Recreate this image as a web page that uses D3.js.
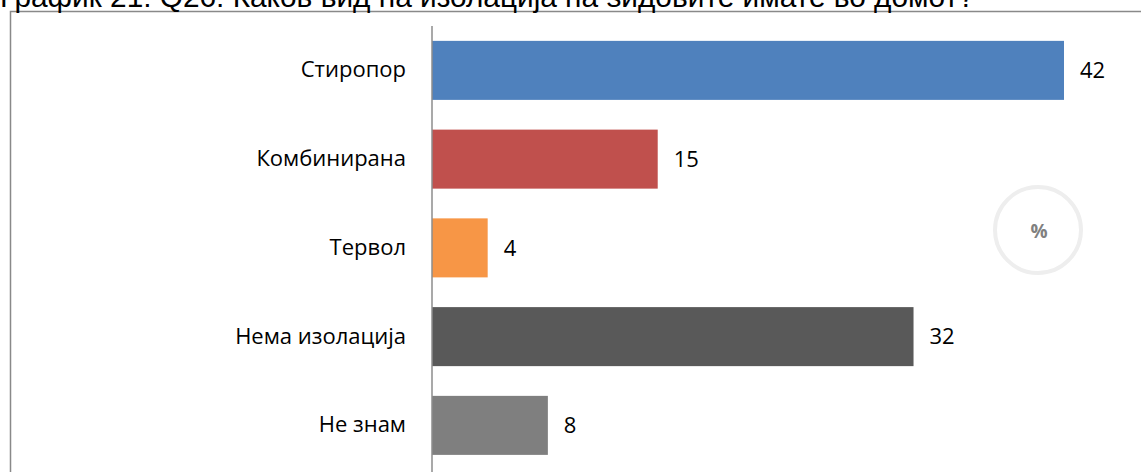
<!DOCTYPE html>
<html>
<head>
<meta charset="utf-8">
<script src="https://cdnjs.cloudflare.com/ajax/libs/d3/7.8.5/d3.min.js"></script>
<style>
html,body{margin:0;padding:0;background:#fff;}
svg{display:block;}
</style>
</head>
<body>
<svg id="chart" width="1141" height="472"></svg>
<script>
const title = "График 21: Q26: Каков вид на изолација на ѕидовите имате во домот?";
const categories = ["Стиропор", "Комбинирана", "Тервол", "Нема изолација", "Не знам"];
const values = [42, 15, 3.7, 32, 7.7];
const valueLabels = ["42", "15", "4", "32", "8"];
const colors = ["#4F81BD", "#C0504D", "#F79646", "#595959", "#7F7F7F"];
const unitLabel = "%";

const svg = d3.select("#chart");
const W = 1141, H = 472;
const labelFont = "Open Sans, Noto Sans, sans-serif";

// frame
svg.append("rect").attr("x", 10.5).attr("y", 11.5).attr("width", 1200).attr("height", 600)
  .attr("fill", "none").attr("stroke", "#898989").attr("stroke-width", 1.5);

// title
const t = svg.append("text").attr("x", 0).attr("y", 7)
  .attr("font-family", "Liberation Sans, Arial, sans-serif").attr("font-size", 24)
  .attr("fill", "#000").text(title);
const tl = t.node().getComputedTextLength();
t.attr("font-size", 24 * 975 / tl);

const x = d3.scaleLinear().domain([0, 42]).range([432, 1064]);
const y = d3.scaleBand().domain(categories).range([26, 26 + 88.75 * 5])
  .paddingInner(0.335).paddingOuter(0.1675);

// bars
svg.selectAll("rect.bar").data(categories).enter().append("rect")
  .attr("class", "bar")
  .attr("x", x(0))
  .attr("y", d => y(d))
  .attr("width", (d, i) => x(values[i]) - x(0))
  .attr("height", y.bandwidth())
  .attr("fill", (d, i) => colors[i]);

// axis
const axis = d3.axisLeft(y).tickSize(0).tickPadding(26);
const ag = svg.append("g").attr("transform", `translate(${x(0)},0)`).call(axis);
ag.select(".domain").remove();
ag.selectAll("text").attr("font-family", labelFont)
  .attr("font-size", 22).attr("fill", "#000");
svg.append("line").attr("x1", x(0)).attr("x2", x(0)).attr("y1", 26).attr("y2", H)
  .attr("stroke", "#8c8c8c").attr("stroke-width", 1.5);

// value labels
svg.selectAll("text.val").data(categories).enter().append("text")
  .attr("class", "val")
  .attr("x", (d, i) => x(values[i]) + 16)
  .attr("y", d => y(d) + y.bandwidth() / 2)
  .attr("dy", "0.35em")
  .attr("font-family", labelFont)
  .attr("font-size", 22).attr("fill", "#000")
  .text((d, i) => valueLabels[i]);

// watermark
svg.append("circle").attr("cx", 1038).attr("cy", 230).attr("r", 43)
  .attr("fill", "none").attr("stroke", "#eeeeee").attr("stroke-width", 4);
svg.append("text").attr("x", 1039).attr("y", 231).attr("dy", "0.35em")
  .attr("text-anchor", "middle").attr("font-family", labelFont)
  .attr("font-weight", "bold").attr("font-size", 19).attr("fill", "#808080").text(unitLabel);
</script>
</body>
</html>
